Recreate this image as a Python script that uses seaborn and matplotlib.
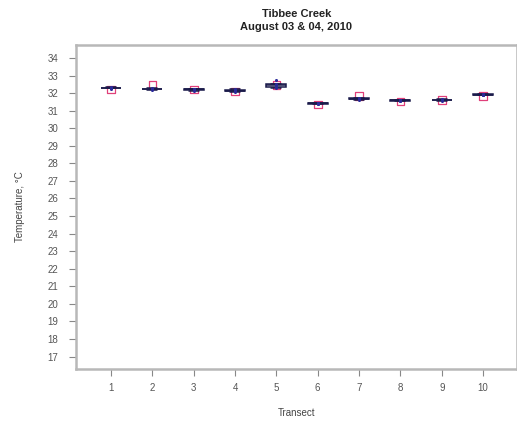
import matplotlib
matplotlib.use("Agg")
import matplotlib.pyplot as plt
import numpy as np
import pandas as pd
import seaborn as sns

# Temperature readings (°C) along each transect
transects = [1, 2, 3, 4, 5, 6, 7, 8, 9, 10]
readings = [
    [32.25, 32.30, 32.30, 32.32, 32.35],
    [32.20, 32.22, 32.25, 32.25, 32.28],
    [32.15, 32.20, 32.22, 32.25, 32.25],
    [32.05, 32.10, 32.15, 32.20, 32.22],
    [32.30, 32.35, 32.45, 32.50, 32.75],
    [31.38, 31.40, 31.42, 31.44, 31.45],
    [31.62, 31.65, 31.68, 31.70, 31.72],
    [31.55, 31.58, 31.60, 31.62, 31.63],
    [31.58, 31.60, 31.62, 31.63, 31.65],
    [31.88, 31.90, 31.92, 31.95, 31.97],
]
# Single spot reading per transect (open red squares)
spot_temp = [32.20, 32.45, 32.20, 32.10, 32.45, 31.35, 31.85, 31.52, 31.60, 31.85]
y_ticks = list(range(17, 35))

rows = []
for t, vals in zip(transects, readings):
    for v in vals:
        rows.append({"Transect": str(t), "Temp": v})
df = pd.DataFrame(rows)
spots = pd.DataFrame({"Transect": [str(t) for t in transects], "Temp": spot_temp})

sns.set_style("white")
plt.rcParams["font.family"] = ["Liberation Sans", "DejaVu Sans"]

fig = plt.figure(figsize=(5.17, 4.21), dpi=100)
ax = fig.add_axes([0.147, 0.124, 0.853, 0.769])

order = [str(t) for t in transects]
sns.boxplot(data=df, x="Transect", y="Temp", order=order, width=0.48,
            color="#f4f4f8", linecolor="#1a1a4a", linewidth=1.1,
            whis=1.5, fliersize=0, ax=ax)
sns.stripplot(data=df, x="Transect", y="Temp", order=order, jitter=False,
              color="#2a2a9a", size=2.2, ax=ax)
sns.scatterplot(data=spots, x="Transect", y="Temp", marker="s", s=30,
                facecolor="none", edgecolor="#e0407a", linewidth=0.9, ax=ax)

ax.set_xlim(-0.847, 9.82)
ax.set_ylim(16.3, 34.74)
ax.set_yticks(y_ticks)
ax.set_yticklabels([str(v) for v in y_ticks])

ax.tick_params(axis="both", which="both", direction="out", length=5,
               width=0.8, color="#888888", labelsize=7, labelcolor="#555555",
               left=True, bottom=True)
ax.tick_params(axis="y", pad=8)
ax.tick_params(axis="x", pad=5)
for side in ax.spines.values():
    side.set_color("#b8b8b8")
    side.set_linewidth(1.8)

ax.set_xlabel("Transect", fontsize=7, color="#444444", labelpad=11)
ax.set_ylabel("Temperature, °C", fontsize=7, color="#444444", labelpad=16)
ax.set_title("Tibbee Creek\nAugust 03 & 04, 2010", fontsize=8, fontweight="bold",
             color="#222222", pad=11, linespacing=1.3)

fig.savefig("out.png", dpi=100, facecolor="white")
